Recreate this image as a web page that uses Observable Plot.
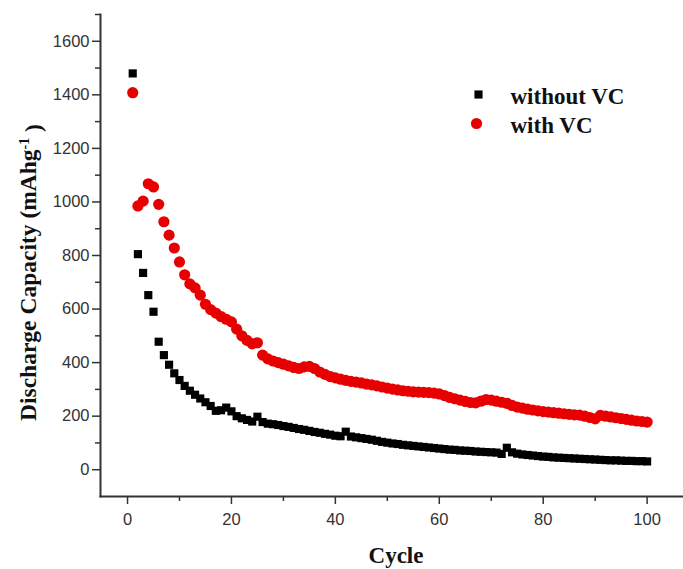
<!DOCTYPE html>
<html><head><meta charset="utf-8">
<script src="https://cdn.jsdelivr.net/npm/d3@7"></script>
<script src="https://cdn.jsdelivr.net/npm/@observablehq/plot@0.6"></script>
<style>body{margin:0;background:#fff}</style>
</head><body><div id="chart"></div>
<script>
// Discharge capacity (mAh/g) for cycles 1..100
const withoutVC = [1480,805,735,652,590,478,428,392,360,335,
  313,295,280,266,252,238,220,222,232,218,
  200,192,186,180,198,178,172,170,167,163,
  160,156,152,149,145,141,138,134,131,127,
  125,142,124,121,118,115,112,108,104,101,
  98,96,93,91,89,87,85,83,81,79,
  77,75,74,72,71,70,68,67,66,65,
  64,59,82,65,60,57,55,53,51,49,
  48,46,45,44,43,42,41,40,39,38,
  37,36,35,35,34,33,33,32,32,31];
const withVC = [1408,985,1003,1068,1056,991,926,876,828,776,
  728,694,679,652,618,598,585,572,562,552,
  525,500,483,470,474,428,414,406,400,394,
  388,382,378,384,386,378,365,356,348,343,
  338,334,330,327,324,320,317,313,309,305,
  301,298,295,293,291,290,289,288,286,283,
  277,270,265,260,255,251,250,256,262,260,
  256,252,248,240,234,230,226,223,220,217,
  215,213,211,209,207,205,204,200,195,190,
  203,200,197,194,191,188,185,182,180,178];
const seriesNames = ["without VC", "with VC"];
const xMajor = [0,20,40,60,80,100];
const xMinor = [10,30,50,70,90];
const yMajor = [0,200,400,600,800,1000,1200,1400,1600];
const yMinor = [100,300,500,700,900,1100,1300,1500,1700];
const xTitle = "Cycle";
const yTitle = "Discharge Capacity (mAhg-1)";

const axisCol = "#333";
const red = "#e60000";
const serif = "'Liberation Serif', 'Times New Roman', serif";
const fmt = d => String(d);

const chart = Plot.plot({
  width: 683, height: 569,
  marginLeft: 100, marginRight: 0, marginTop: 14, marginBottom: 73,
  style: {fontFamily: "'Liberation Sans', Arial, sans-serif", background: "#fff"},
  x: {domain: [-5.2, 107]},
  y: {domain: [-100, 1700]},
  marks: [
    Plot.axisX(xMajor, {tickSize: 8, tickPadding: 9, tickFormat: fmt, fontSize: 16.5, fill: axisCol, stroke: axisCol, strokeWidth: 1.5, label: null}),
    Plot.axisX(xMinor, {tickSize: 5, text: null, stroke: axisCol, strokeWidth: 1.5, label: null}),
    Plot.axisY(yMajor, {tickSize: 8, tickPadding: 3, tickFormat: fmt, fontSize: 16.5, fill: axisCol, stroke: axisCol, strokeWidth: 1.5, label: null}),
    Plot.axisY(yMinor, {tickSize: 5, text: null, stroke: axisCol, strokeWidth: 1.5, label: null}),
    Plot.frame({anchor: "left", stroke: axisCol, strokeWidth: 2}),
    Plot.frame({anchor: "bottom", stroke: axisCol, strokeWidth: 2}),
    Plot.dot(withoutVC, {x: (d, i) => i + 1, y: d => d, symbol: "square", r: 4.6, fill: "#000", stroke: "none"}),
    Plot.dot(withVC, {x: (d, i) => i + 1, y: d => d, r: 5.6, fill: red, stroke: "none"}),
    // legend
    Plot.dot([seriesNames[0]], {x: null, y: null, frameAnchor: "top-left", dx: 378, dy: 80, symbol: "square", r: 4.6, fill: "#000", stroke: "none"}),
    Plot.dot([seriesNames[1]], {x: null, y: null, frameAnchor: "top-left", dx: 376, dy: 109, r: 5.6, fill: red, stroke: "none"}),
    Plot.text([seriesNames[0]], {text: d => d, frameAnchor: "top-left", dx: 410, dy: 82, textAnchor: "start", lineAnchor: "middle", fontSize: 23, fontWeight: "bold", fontFamily: serif, fill: "#111"}),
    Plot.text([seriesNames[1]], {text: d => d, frameAnchor: "top-left", dx: 410, dy: 111, textAnchor: "start", lineAnchor: "middle", fontSize: 23, fontWeight: "bold", fontFamily: serif, fill: "#111"}),
    // axis titles
    Plot.text([xTitle], {text: d => d, frameAnchor: "bottom", dx: 4, dy: 59, textAnchor: "middle", lineAnchor: "middle", fontSize: 23, fontWeight: "bold", fontFamily: serif, fill: "#111"}),
    Plot.text([yTitle], {text: d => d, frameAnchor: "left", dx: -72, dy: 17, rotate: -90, textAnchor: "middle", lineAnchor: "middle", fontSize: 23.5, fontWeight: "bold", fontFamily: serif, fill: "#111"})
  ]
});
document.getElementById("chart").appendChild(chart);

// superscript for the unit
d3.select(chart).selectAll("text").each(function() {
  if (this.textContent === yTitle) {
    const t = d3.select(this);
    t.text(null);
    t.append("tspan").text("Discharge Capacity (mAhg");
    t.append("tspan").attr("dy", "-0.5em").attr("font-size", 14).text("-1");
    t.append("tspan").attr("dy", "0.5em").text(" )");
  }
});
</script>
</body></html>
